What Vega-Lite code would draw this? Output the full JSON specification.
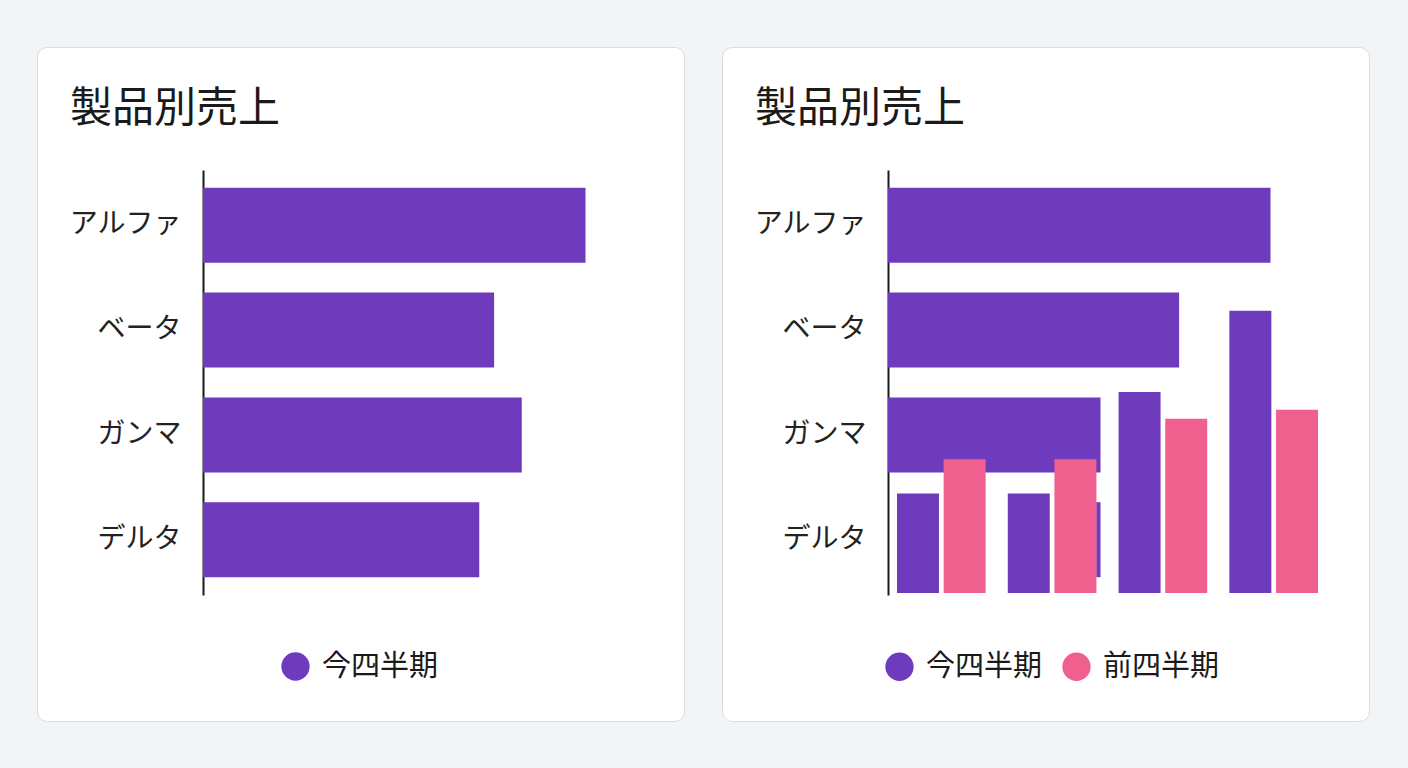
{
  "$schema": "https://vega.github.io/schema/vega-lite/v6.json",
  "background": "#f2f5f7",
  "padding": {"left": 36, "top": 46, "right": 40, "bottom": 50},
  "spacing": 36,
  "config": {
    "font": "Noto Sans CJK JP",
    "view": {"fill": "#ffffff", "stroke": "#d9dce0", "strokeWidth": 1, "cornerRadius": 10},
    "axis": {"grid": false, "ticks": false, "tickSize": 0},
    "legend": {"padding": 0}
  },
  "datasets": {
    "left": [
      {"product": "アルファ", "value": 90, "series": "今四半期"},
      {"product": "ベータ", "value": 68.5, "series": "今四半期"},
      {"product": "ガンマ", "value": 75, "series": "今四半期"},
      {"product": "デルタ", "value": 65, "series": "今四半期"}
    ],
    "rightBars": [
      {"product": "アルファ", "start": 0, "end": 90, "series": "今四半期"},
      {"product": "ベータ", "start": 0, "end": 68.5, "series": "今四半期"},
      {"product": "ガンマ", "start": 0, "end": 50, "series": "今四半期"},
      {"product": "デルタ", "start": 49, "end": 50, "series": "今四半期"}
    ],
    "rightColumns": [
      {"group": "1", "series": "今四半期", "value": 23.4},
      {"group": "1", "series": "前四半期", "value": 31.5},
      {"group": "2", "series": "今四半期", "value": 23.4},
      {"group": "2", "series": "前四半期", "value": 31.5},
      {"group": "3", "series": "今四半期", "value": 47.3},
      {"group": "3", "series": "前四半期", "value": 41},
      {"group": "4", "series": "今四半期", "value": 66.4},
      {"group": "4", "series": "前四半期", "value": 43.1}
    ]
  },
  "resolve": {
    "scale": {"x": "independent", "y": "independent", "color": "independent"},
    "legend": {"color": "independent"}
  },
  "hconcat": [
    {
      "width": 647,
      "height": 674,
      "title": {"text": "製品別売上", "anchor": "start", "frame": "group", "offset": -84, "dx": 33, "fontSize": 42, "fontWeight": "normal", "color": "#1a1a1a", "font": "Noto Sans CJK JP"},
      "data": {"name": "left"},
      "mark": {"type": "bar", "color": "#6f3bbd"},
      "encoding": {
        "y": {
          "field": "product", "type": "nominal",
          "sort": ["アルファ", "ベータ", "ガンマ", "デルタ"],
          "scale": {"range": [123, 548], "paddingInner": 0.284, "paddingOuter": 0.17},
          "axis": {"title": null, "offset": -166, "domainColor": "#1a1a1a", "domainWidth": 2, "labelFontSize": 28, "labelColor": "#222222", "labelPadding": 22, "labelFont": "Noto Sans CJK JP"}
        },
        "x": {
          "field": "value", "type": "quantitative",
          "scale": {"domain": [0, 100], "range": [166, 591], "nice": false},
          "axis": null
        },
        "color": {
          "field": "series", "type": "nominal",
          "scale": {"domain": ["今四半期"], "range": ["#6f3bbd"]},
          "legend": {"title": null, "orient": "none", "legendX": 244, "legendY": 605, "direction": "horizontal", "symbolType": "circle", "symbolSize": 800, "symbolStrokeWidth": 0, "labelFontSize": 29, "labelFont": "Noto Sans CJK JP", "labelColor": "#1a1a1a", "labelOffset": 12, "columnPadding": 18}
        }
      }
    },
    {
      "width": 647,
      "height": 674,
      "title": {"text": "製品別売上", "anchor": "start", "frame": "group", "offset": -84, "dx": 33, "fontSize": 42, "fontWeight": "normal", "color": "#1a1a1a", "font": "Noto Sans CJK JP"},
      "resolve": {"scale": {"x": "independent", "y": "independent"}},
      "layer": [
        {
          "data": {"name": "rightBars"},
          "mark": {"type": "bar"},
          "encoding": {
            "y": {
              "field": "product", "type": "nominal",
              "sort": ["アルファ", "ベータ", "ガンマ", "デルタ"],
              "scale": {"range": [123, 548], "paddingInner": 0.284, "paddingOuter": 0.17},
              "axis": {"title": null, "offset": -166, "domainColor": "#1a1a1a", "domainWidth": 2, "labelFontSize": 28, "labelColor": "#222222", "labelPadding": 22, "labelFont": "Noto Sans CJK JP"}
            },
            "x": {
              "field": "start", "type": "quantitative",
              "scale": {"domain": [0, 100], "range": [166, 591], "nice": false},
              "axis": null
            },
            "x2": {"field": "end"},
            "color": {
              "field": "series", "type": "nominal",
              "scale": {"domain": ["今四半期", "前四半期"], "range": ["#6f3bbd", "#f0608f"]},
              "legend": {"title": null, "orient": "none", "legendX": 163, "legendY": 605, "direction": "horizontal", "symbolType": "circle", "symbolSize": 800, "symbolStrokeWidth": 0, "labelFontSize": 29, "labelFont": "Noto Sans CJK JP", "labelColor": "#1a1a1a", "labelOffset": 12, "columnPadding": 19}
            }
          }
        },
        {
          "data": {"name": "rightColumns"},
          "mark": {"type": "bar"},
          "encoding": {
            "x": {
              "field": "group", "type": "nominal",
              "scale": {"range": [175, 596], "paddingInner": 0.2, "paddingOuter": 0},
              "axis": null
            },
            "xOffset": {
              "field": "series", "type": "nominal",
              "sort": ["今四半期", "前四半期"],
              "scale": {"paddingInner": 0.1, "paddingOuter": 0}
            },
            "y": {
              "field": "value", "type": "quantitative",
              "scale": {"domain": [0, 100], "range": [546, 121], "nice": false},
              "axis": null
            },
            "color": {
              "field": "series", "type": "nominal",
              "scale": {"domain": ["今四半期", "前四半期"], "range": ["#6f3bbd", "#f0608f"]},
              "legend": {"title": null, "orient": "none", "legendX": 163, "legendY": 605, "direction": "horizontal", "symbolType": "circle", "symbolSize": 800, "symbolStrokeWidth": 0, "labelFontSize": 29, "labelFont": "Noto Sans CJK JP", "labelColor": "#1a1a1a", "labelOffset": 12, "columnPadding": 19}
            }
          }
        }
      ]
    }
  ]
}
